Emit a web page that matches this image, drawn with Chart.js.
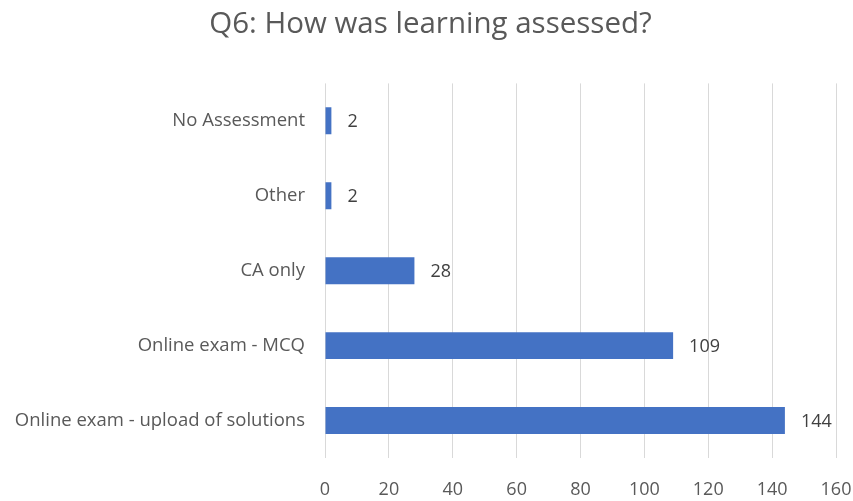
<!DOCTYPE html>
<html>
<head>
<meta charset="utf-8">
<script src="https://cdn.jsdelivr.net/npm/chart.js@4/dist/chart.umd.min.js"></script>
<style>
  html, body { margin: 0; padding: 0; background: #fff; }
  #wrap { width: 853px; height: 501px; position: relative; }
</style>
</head>
<body>
<div id="wrap"><canvas id="chart"></canvas></div>
<script>
const categories = ["No Assessment", "Other", "CA only", "Online exam - MCQ", "Online exam - upload of solutions"];
const counts = [2, 2, 28, 109, 144];
const xTicks = [0, 20, 40, 60, 80, 100, 120, 140, 160];

const fontFam = "'Open Sans', 'Liberation Sans', sans-serif";
const textCol = "#595959";

// value labels at the end of each bar
const valueLabels = {
  id: 'valueLabels',
  afterDatasetsDraw(chart) {
    const ctx = chart.ctx;
    const meta = chart.getDatasetMeta(0);
    ctx.save();
    ctx.font = "18px " + fontFam;
    ctx.fillStyle = "#404040";
    ctx.textAlign = "left";
    ctx.textBaseline = "middle";
    meta.data.forEach((bar, i) => {
      ctx.fillText(String(counts[i]), bar.x + 16, bar.y + 1);
    });
    ctx.restore();
  }
};

const config = {
  type: 'bar',
  data: {
    labels: categories,
    datasets: [{
      data: counts,
      backgroundColor: "#4472C4",
      barPercentage: 0.72,
      categoryPercentage: 0.5
    }]
  },
  options: {
    indexAxis: 'y',
    responsive: false,
    animation: false,
    layout: { padding: { top: 0, right: -8, bottom: 0, left: 0 } },
    plugins: {
      legend: { display: false },
      tooltip: { enabled: false },
      title: {
        display: true,
        text: "Q6: How was learning assessed?",
        color: textCol,
        font: { family: fontFam, size: 29.5, weight: 'normal' },
        padding: { top: 7, bottom: 41 }
      }
    },
    scales: {
      x: {
        min: 0, max: 160,
        afterBuildTicks(axis) { axis.ticks = xTicks.map(v => ({ value: v })); },
        afterFit(axis) { axis.height = 43; axis.paddingRight = 17; },
        grid: { color: "#d9d9d9", lineWidth: 1, drawTicks: false },
        border: { display: false },
        ticks: { color: textCol, font: { family: fontFam, size: 18 }, padding: 21 }
      },
      y: {
        afterFit(axis) { axis.width = 325; },
        grid: { display: false, drawTicks: false },
        border: { display: false },
        ticks: { color: textCol, font: { family: fontFam, size: 18.5 }, padding: 20 }
      }
    }
  },
  plugins: [valueLabels]
};

const canvas = document.getElementById('chart');
canvas.width = 853;
canvas.height = 501;
new Chart(canvas, config);
</script>
</body>
</html>
